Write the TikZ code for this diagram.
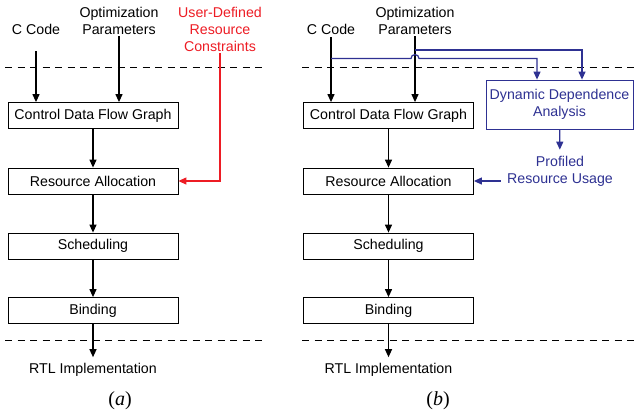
\documentclass[tikz,border=0pt]{standalone}
\usepackage{fontspec}
\setmainfont{Liberation Sans}
\newfontfamily\capfont{Liberation Serif}
\usetikzlibrary{arrows.meta}

\definecolor{userred}{HTML}{ED1C24}
\definecolor{profblue}{HTML}{2E3192}

\tikzset{
  stage/.style={draw, line width=0.8pt, minimum width=170pt, minimum height=26pt,
    inner sep=0pt, font=\fontsize{14.2}{17}\selectfont},
  lbl/.style={align=center, inner sep=0pt, font=\fontsize{14.2}{17}\selectfont},
  flow/.style={line width=1.2pt, -{Triangle[length=8pt,width=7pt]}},
  blueflow/.style={flow, draw=profblue},
  sep/.style={line width=1pt, dash pattern=on 7pt off 5.5pt},
  subcap/.style={inner sep=0pt, font=\capfont\fontsize{20}{22}\selectfont},
}

\begin{document}
\begin{tikzpicture}[x=1pt,y=-1pt]
\useasboundingbox (0,0) rectangle (634,418);

%% (a) fixed constraints
\node[lbl] (codeA) at (36,29) {C Code};
\node[lbl] (optA) at (119,20.5) {Optimization\\Parameters};
\node[lbl, text=userred] (userA) at (220,29) {User-Defined\\Resource\\Constraints};

\draw[sep] (5,67) -- (262,67);
\draw[sep] (5,340) -- (262,340);

\node[stage] (cdfgA) at (93,115.5) {Control Data Flow Graph};
\node[stage] (allocA) at (93,181) {Resource Allocation};
\node[stage] (schedA) at (93,246) {Scheduling};
\node[stage] (bindA) at (93,310.5) {Binding};
\node[lbl] (rtlA) at (93,370) {RTL Implementation};
\node[subcap] (capA) at (120,401) {(\textit{a})};

\draw[flow, shorten <=17pt] (codeA) -- (codeA |- cdfgA.north);
\draw[flow, shorten <=2pt] (optA) -- (optA |- cdfgA.north);
\draw[flow, draw=userred, shorten <=2pt] (userA) |- (allocA.east);

\draw[flow] (cdfgA) -- (allocA);
\draw[flow] (allocA) -- (schedA);
\draw[flow] (schedA) -- (bindA);
\draw[flow, shorten >=6pt] (bindA) -- (rtlA);

%% (b) profiled constraints
\node[lbl] (codeB) at (331,29) {C Code};
\node[lbl] (optB) at (415,20.5) {Optimization\\Parameters};

\draw[sep] (302,67) -- (634,67);
\draw[sep] (302,340) -- (634,340);

\node[stage] (cdfgB) at (388.5,115.5) {Control Data Flow Graph};
\node[stage] (allocB) at (388.5,181) {Resource Allocation};
\node[stage] (schedB) at (388.5,246) {Scheduling};
\node[stage] (bindB) at (388.5,310.5) {Binding};
\node[lbl] (rtlB) at (388.5,370) {RTL Implementation};
\node[subcap] (capB) at (438,401) {(\textit{b})};

\node[draw=profblue, line width=0.8pt, minimum width=147pt, minimum height=49pt,
  lbl, text=profblue] (dda) at (559.5,104.5) {Dynamic Dependence\\Analysis};
\node[lbl, text=profblue] (prof) at (560,171) {Profiled\\Resource Usage};

\coordinate (codeTap) at (331,58.5);
\coordinate (optTap) at (415,50);
\coordinate (ddaL) at ([xshift=-22.5pt]dda.north);
\coordinate (ddaR) at ([xshift=22.5pt]dda.north);

\draw[flow, shorten <=3pt] (codeB) -- (codeB |- cdfgB.north);
\draw[flow, shorten <=2pt] (optB) -- (optB |- cdfgB.north);

% copies of the inputs go to the profiler
\draw[blueflow] (codeTap) -- ([xshift=-4pt]codeTap -| optTap)
  arc[start angle=180, end angle=0, radius=4pt] -- (codeTap -| ddaL) -- (ddaL);
\draw[blueflow] (optTap) -| (ddaR);

\draw[blueflow, shorten >=6pt] (dda) -- (prof);
\draw[blueflow, shorten <=6pt] (prof.west |- allocB) -- (allocB.east);

\draw[flow] (cdfgB) -- (allocB);
\draw[flow] (allocB) -- (schedB);
\draw[flow] (schedB) -- (bindB);
\draw[flow, shorten >=6pt] (bindB) -- (rtlB);
\end{tikzpicture}
\end{document}
